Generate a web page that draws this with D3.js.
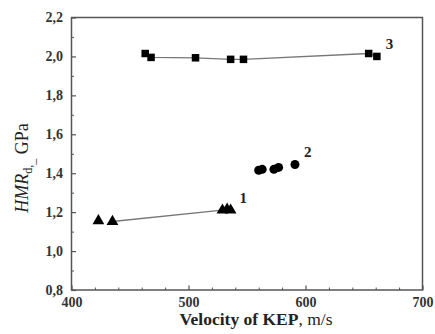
<!DOCTYPE html>
<html>
<head>
<meta charset="utf-8">
<script src="https://cdn.jsdelivr.net/npm/d3@7"></script>
<style>
  body { margin: 0; background: #fff; }
  svg { display: block; }
  svg text { font-family: "Liberation Serif", "Times New Roman", serif; }
</style>
</head>
<body>
<script>
// series 1 - triangles, 2 - circles, 3 - squares
const s1 = [[423, 1.155], [435, 1.152], [529, 1.21], [533, 1.215], [536, 1.21]];
const s2 = [[560, 1.415], [563, 1.42], [573, 1.42], [577, 1.43], [591, 1.445]];
const s3 = [[463, 2.015], [468, 1.995], [506, 1.993], [536, 1.985], [547, 1.985], [654, 2.015], [661, 2.0]];

const xTicks = [400, 500, 600, 700];
const yTicks = [0.8, 1.0, 1.2, 1.4, 1.6, 1.8, 2.0, 2.2];
const seriesLabels = ['1', '2', '3'];

const w = 435,
      h = 334,
      mLeft = 71.5,
      mRight = 422.5,
      mTop = 17.5,
      mBottom = 290;

const svg = d3.select('body')
            .append('svg')
            .attr('width', w)
            .attr('height', h);

const x = d3.scaleLinear().domain([400, 700]).range([mLeft, mRight]);
const y = d3.scaleLinear().domain([0.8, 2.2]).range([mBottom, mTop]);

const fmt = d => d3.format('.1f')(d).replace('.', ',');
const serif = "'Liberation Serif', 'Times New Roman', serif";

// minor ticks
svg.append('g')
    .attr('transform', 'translate(0,' + mBottom + ')')
    .call(d3.axisBottom(x).tickValues(d3.range(420, 700, 20).filter(v => v % 100)).tickSize(-2.5).tickFormat(''))
    .call(g => g.select('.domain').remove())
    .call(g => g.selectAll('line').attr('stroke', '#555'));
svg.append('g')
    .attr('transform', 'translate(' + mLeft + ',0)')
    .call(d3.axisLeft(y).tickValues(d3.range(0.9, 2.2, 0.2)).tickSize(-2.5).tickFormat(''))
    .call(g => g.select('.domain').remove())
    .call(g => g.selectAll('line').attr('stroke', '#555'));

// major ticks
const xAxis = svg.append('g')
    .attr('transform', 'translate(0,' + mBottom + ')')
    .call(d3.axisBottom(x).tickValues(xTicks).tickSize(-4.5).tickPadding(5));
const yAxis = svg.append('g')
    .attr('transform', 'translate(' + mLeft + ',0)')
    .call(d3.axisLeft(y).tickValues(yTicks).tickSize(-4.5).tickPadding(8.5).tickFormat(fmt));

[xAxis, yAxis].forEach(g => {
    g.attr('font-family', serif);
    g.select('.domain').remove();
    g.selectAll('line').attr('stroke', '#555').attr('stroke-width', 1.2);
    g.selectAll('text')
        .attr('font-family', serif)
        .attr('font-weight', 'bold')
        .attr('font-size', 14)
        .attr('fill', '#333');
});
xAxis.selectAll('text').attr('dy', '0.85em');

// frame
svg.append('rect')
    .attr('x', mLeft).attr('y', mTop)
    .attr('width', mRight - mLeft).attr('height', mBottom - mTop)
    .attr('fill', 'none')
    .attr('stroke', '#555')
    .attr('stroke-width', 1.5);

// lines
const line = d3.line().x(d => x(d[0])).y(d => y(d[1]));
svg.append('path').datum(s1.slice(1, 3))
    .attr('d', line).attr('fill', 'none').attr('stroke', '#777').attr('stroke-width', 1.3);
svg.append('path').datum(s3)
    .attr('d', line).attr('fill', 'none').attr('stroke', '#777').attr('stroke-width', 1.3);

// markers
svg.selectAll('.tri').data(s1).enter().append('path')
    .attr('d', d3.symbol().type(d3.symbolTriangle).size(60))
    .attr('transform', d => 'translate(' + x(d[0]) + ',' + y(d[1]) + ')')
    .attr('fill', '#000');
svg.selectAll('.dot').data(s2).enter().append('circle')
    .attr('cx', d => x(d[0])).attr('cy', d => y(d[1]))
    .attr('r', 4.5).attr('fill', '#000');
svg.selectAll('.sq').data(s3).enter().append('rect')
    .attr('x', d => x(d[0]) - 3.75).attr('y', d => y(d[1]) - 3.75)
    .attr('width', 7.5).attr('height', 7.5).attr('fill', '#000');

// series numbers
const labelAt = [s1[4], s2[4], s3[6]];
svg.selectAll('.num').data(labelAt).enter().append('text')
    .attr('x', d => x(d[0]) + 9)
    .attr('y', d => y(d[1]) - 7)
    .attr('font-family', serif)
    .attr('font-weight', 'bold')
    .attr('font-size', 15)
    .attr('fill', '#222')
    .text((d, i) => seriesLabels[i]);

// axis titles
const xt = svg.append('text')
    .attr('x', 256).attr('y', 325)
    .attr('text-anchor', 'middle')
    .attr('font-family', serif)
    .attr('font-size', 17.5)
    .attr('fill', '#222');
xt.append('tspan').attr('font-weight', 'bold').text('Velocity of KEP');
xt.append('tspan').text(', m/s');

const yt = svg.append('text')
    .attr('transform', 'translate(28,168) rotate(-90)')
    .attr('text-anchor', 'middle')
    .attr('font-family', serif)
    .attr('font-size', 18)
    .attr('fill', '#222');
yt.append('tspan').attr('font-style', 'italic').text('HMR');
yt.append('tspan').attr('font-size', 12).attr('dy', 4).text('d,');
yt.append('tspan').attr('font-size', 12).attr('dy', 3).text('_');
yt.append('tspan').attr('dy', -7).text(' GPa');
</script>
</body>
</html>
